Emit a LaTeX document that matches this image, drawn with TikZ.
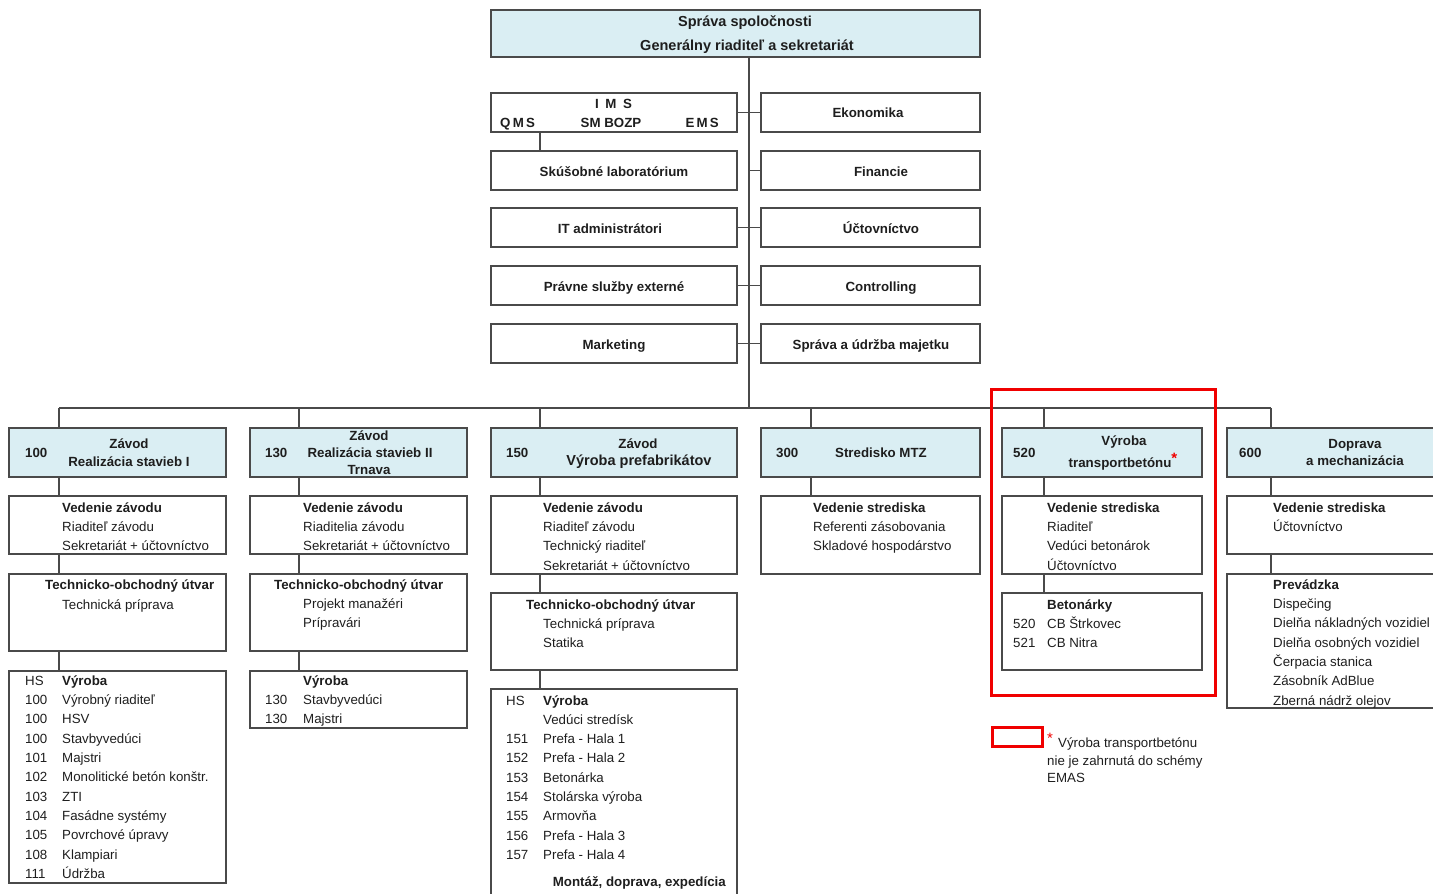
\documentclass[tikz,border=0pt]{standalone}
\usepackage{fontspec}
\setmainfont{Liberation Sans}
\definecolor{hb}{HTML}{DAEEF3}
\definecolor{lc}{HTML}{4A4A4A}
\definecolor{txtc}{HTML}{1E1E1E}
\definecolor{emred}{HTML}{F00000}
\begin{document}
\begin{tikzpicture}[x=1pt,y=-1pt,
  box/.style={draw=lc,line width=1.2pt,anchor=north west,inner sep=0,outer sep=0},
  hdr/.style={box,fill=hb},
  ln/.style={draw=lc,line width=1.2pt},
  t/.style={inner sep=0,anchor=mid west,yshift=-2.5pt,text=txtc,font=\fontsize{13.3}{16}\selectfont},
  tb/.style={t,font=\fontsize{13.3}{16}\selectfont\bfseries},
  ct/.style={tb,anchor=mid},
  big/.style={font=\fontsize{14.5}{16}\selectfont\bfseries},
  redbox/.style={draw=emred,line width=3pt,anchor=north west,inner sep=0,outer sep=0}]
\useasboundingbox (0,0) rectangle (1433,894);
\clip (0,0) rectangle (1433,894);

% ---------- top ----------
\node[hdr,minimum width=489pt,minimum height=47pt] (top) at (491,10) {};
\node[ct,big] (top1) at (745,21) {Správa spoločnosti};
\node[ct,big] (top2) at (747,45) {Generálny riaditeľ a sekretariát};

% ---------- staff boxes ----------
\node[box,minimum width=246pt,minimum height=39pt] (ims) at (491,93) {};
\node[box,minimum width=219pt,minimum height=39pt] (eko) at (761,93) {};
\node[box,minimum width=246pt,minimum height=39pt] (lab) at (491,151) {};
\node[box,minimum width=219pt,minimum height=39pt] (fin) at (761,151) {};
\node[box,minimum width=246pt,minimum height=39pt] (it) at (491,208) {};
\node[box,minimum width=219pt,minimum height=39pt] (uct) at (761,208) {};
\node[box,minimum width=246pt,minimum height=39pt] (prav) at (491,266) {};
\node[box,minimum width=219pt,minimum height=39pt] (ctrl) at (761,266) {};
\node[box,minimum width=246pt,minimum height=39pt] (mkt) at (491,324) {};
\node[box,minimum width=219pt,minimum height=39pt] (sprm) at (761,324) {};

\node[ct] (imsA) at (613.5,103) {I\enspace M\enspace S};
\node[tb] (imsQ) at (500,122) {Q\,M\,S};
\node[ct] (imsB) at (611,122) {SM BOZP};
\node[tb,anchor=mid east] (imsE) at (719,122) {E\,M\,S};
\node[ct] (ekoT) at (868,112) {Ekonomika};
\node[ct] (labT) at (614,171) {Skúšobné laboratórium};
\node[ct] (finT) at (881,171) {Financie};
\node[ct] (itT) at (610,228) {IT administrátori};
\node[ct] (uctT) at (881,228) {Účtovníctvo};
\node[ct] (pravT) at (614,286) {Právne služby externé};
\node[ct] (ctrlT) at (881,286) {Controlling};
\node[ct] (mktT) at (614,344) {Marketing};
\node[ct] (sprmT) at (871,344) {Správa a údržba majetku};

% ---------- trunk and bus ----------
\coordinate (tr) at (749,408);
\coordinate (d100) at (59,408);
\coordinate (d130) at (299,408);
\coordinate (d150) at (540,408);
\coordinate (d300) at (811,408);
\coordinate (d520) at (1044,408);
\coordinate (d600) at (1271,408);
\draw[ln] (top.south -| tr) -- (tr);
\draw[ln] (d100) -- (d600);
\draw[ln] (ims.east) -- (eko.west);
\draw[ln] (fin.west -| tr) -- (fin.west);
\draw[ln] (it.east) -- (uct.west);
\draw[ln] (prav.east) -- (ctrl.west);
\draw[ln] (mkt.east) -- (sprm.west);
\coordinate (labx) at (540,140);
\draw[ln] (ims.south -| labx) -- (lab.north -| labx);

% ---------- division headers ----------
\node[hdr,minimum width=217pt,minimum height=49pt] (h100) at (9,428) {};
\node[hdr,minimum width=217pt,minimum height=49pt] (h130) at (250,428) {};
\node[hdr,minimum width=246pt,minimum height=49pt] (h150) at (491,428) {};
\node[hdr,minimum width=219pt,minimum height=49pt] (h300) at (761,428) {};
\node[hdr,minimum width=200pt,minimum height=49pt] (h520) at (1002,428) {};
\node[hdr,minimum width=230pt,minimum height=49pt] (h600) at (1227,428) {};

\node[tb] (n100) at (25,452) {100};
\node[ct] (h100a) at (129,443) {Závod};
\node[ct] (h100b) at (129,461) {Realizácia stavieb I};
\node[tb] (n130) at (265,452) {130};
\node[ct] (h130a) at (369,435) {Závod};
\node[ct] (h130b) at (370,452) {Realizácia stavieb II};
\node[ct] (h130c) at (369,469) {Trnava};
\node[tb] (n150) at (506,452) {150};
\node[ct] (h150a) at (638,443) {Závod};
\node[ct,big] (h150b) at (639,460) {Výroba prefabrikátov};
\node[tb] (n300) at (776,452) {300};
\node[ct] (h300a) at (881,452) {Stredisko MTZ};
\node[tb] (n520) at (1013,452) {520};
\node[ct] (h520a) at (1124,440) {Výroba};
\node[ct] (h520b) at (1123,462) {transportbetónu\raisebox{4pt}{\textcolor{emred}{\fontsize{15}{16}\selectfont *}}};
\node[tb] (n600) at (1239,452) {600};
\node[ct] (h600a) at (1355,443) {Doprava};
\node[ct] (h600b) at (1355,460) {a mechanizácia};

% ---------- sub boxes ----------
\node[box,minimum width=217pt,minimum height=58pt] (v100) at (9,496) {};
\node[box,minimum width=217pt,minimum height=58pt] (v130) at (250,496) {};
\node[box,minimum width=246pt,minimum height=78pt] (v150) at (491,496) {};
\node[box,minimum width=219pt,minimum height=78pt] (v300) at (761,496) {};
\node[box,minimum width=200pt,minimum height=78pt] (v520) at (1002,496) {};
\node[box,minimum width=230pt,minimum height=58pt] (v600) at (1227,496) {};

\node[box,minimum width=217pt,minimum height=77pt] (t100) at (9,574) {};
\node[box,minimum width=217pt,minimum height=77pt] (t130) at (250,574) {};
\node[box,minimum width=246pt,minimum height=77pt] (t150) at (491,593) {};
\node[box,minimum width=200pt,minimum height=77pt] (t520) at (1002,593) {};
\node[box,minimum width=230pt,minimum height=134pt] (t600) at (1227,574) {};

\node[box,minimum width=217pt,minimum height=212pt] (p100) at (9,671) {};
\node[box,minimum width=217pt,minimum height=57pt] (p130) at (250,671) {};
\node[box,minimum width=246pt,minimum height=230pt] (p150) at (491,689) {};

% ---------- vertical connectors ----------
\foreach \d in {100,130,150,300,520,600}
  \draw[ln] (d\d) -- (h\d.north -| d\d) (h\d.south -| d\d) -- (v\d.north -| d\d);
\foreach \d in {100,130,150,520,600}
  \draw[ln] (v\d.south -| d\d) -- (t\d.north -| d\d);
\foreach \d in {100,130,150}
  \draw[ln] (t\d.south -| d\d) -- (p\d.north -| d\d);

% ---------- texts: Vedenie ----------
\node[tb] (v100h) at (62,507) {Vedenie závodu};
\foreach \s [count=\i] in {Riaditeľ závodu,Sekretariát + účtovníctvo}
  \node[t] (v100-\i) at (62,507+19.3*\i) {\s};
\node[tb] (v130h) at (303,507) {Vedenie závodu};
\foreach \s [count=\i] in {Riaditelia závodu,Sekretariát + účtovníctvo}
  \node[t] (v130-\i) at (303,507+19.3*\i) {\s};
\node[tb] (v150h) at (543,507) {Vedenie závodu};
\foreach \s [count=\i] in {Riaditeľ závodu,Technický riaditeľ,Sekretariát + účtovníctvo}
  \node[t] (v150-\i) at (543,507+19.3*\i) {\s};
\node[tb] (v300h) at (813,507) {Vedenie strediska};
\foreach \s [count=\i] in {Referenti zásobovania,Skladové hospodárstvo}
  \node[t] (v300-\i) at (813,507+19.3*\i) {\s};
\node[tb] (v520h) at (1047,507) {Vedenie strediska};
\foreach \s [count=\i] in {Riaditeľ,Vedúci betonárok,Účtovníctvo}
  \node[t] (v520-\i) at (1047,507+19.3*\i) {\s};
\node[tb] (v600h) at (1273,507) {Vedenie strediska};
\node[t] (v600-1) at (1273,526) {Účtovníctvo};

% ---------- texts: Technicko ----------
\node[tb] (t100h) at (45,584) {Technicko-obchodný útvar};
\node[t] (t100-1) at (62,604) {Technická príprava};
\node[tb] (t130h) at (274,584) {Technicko-obchodný útvar};
\foreach \s [count=\i] in {Projekt manažéri,Prípravári}
  \node[t] (t130-\i) at (303,584+19.3*\i) {\s};
\node[tb] (t150h) at (526,604) {Technicko-obchodný útvar};
\foreach \s [count=\i] in {Technická príprava,Statika}
  \node[t] (t150-\i) at (543,604+19.3*\i) {\s};
\node[tb] (t520h) at (1047,604) {Betonárky};
\foreach \n/\s [count=\i] in {520/CB Štrkovec,521/CB Nitra}{
  \node[t] (t520n-\i) at (1013,604+19.3*\i) {\n};
  \node[t] (t520-\i) at (1047,604+19.3*\i) {\s};}
\node[tb] (t600h) at (1273,584) {Prevádzka};
\foreach \s [count=\i] in {Dispečing,Dielňa nákladných vozidiel,Dielňa osobných vozidiel,Čerpacia stanica,Zásobník AdBlue,Zberná nádrž olejov}
  \node[t] (t600-\i) at (1273,584+19.35*\i) {\s};

% ---------- texts: Výroba ----------
\node[t] (p100hs) at (25,680) {HS};
\node[tb] (p100h) at (62,680) {Výroba};
\foreach \n/\s [count=\i] in {100/Výrobný riaditeľ,100/HSV,100/Stavbyvedúci,101/Majstri,102/Monolitické betón konštr.,103/ZTI,104/Fasádne systémy,105/Povrchové úpravy,108/Klampiari,111/Údržba}{
  \node[t] (p100n-\i) at (25,680+19.35*\i) {\n};
  \node[t] (p100-\i) at (62,680+19.35*\i) {\s};}
\node[tb] (p130h) at (303,680) {Výroba};
\foreach \s [count=\i] in {Stavbyvedúci,Majstri}{
  \node[t] (p130n-\i) at (265,680+19.3*\i) {130};
  \node[t] (p130-\i) at (303,680+19.3*\i) {\s};}
\node[t] (p150hs) at (506,700) {HS};
\node[tb] (p150h) at (543,700) {Výroba};
\node[t] (p150-0) at (543,719) {Vedúci stredísk};
\foreach \n/\s [count=\i] in {151/Prefa - Hala 1,152/Prefa - Hala 2,153/Betonárka,154/Stolárska výroba,155/Armovňa,156/Prefa - Hala 3,157/Prefa - Hala 4}{
  \node[t] (p150n-\i) at (506,719+19.35*\i) {\n};
  \node[t] (p150-\i) at (543,719+19.35*\i) {\s};}
\node[tb,anchor=mid east] (p150m) at (726,881) {Montáž, doprava, expedícia};

% ---------- EMAS marking ----------
\node[redbox,minimum width=224pt,minimum height=306pt] (emas) at (991,389) {};
\node[redbox,minimum width=50pt,minimum height=19pt] (leg) at (992,727) {};
\node[t,text=emred,font=\fontsize{15}{16}\selectfont] (legs) at (1047,738) {*};
\node[t] (leg1) at (1058,742) {Výroba transportbetónu};
\node[t] (leg2) at (1047,760) {nie je zahrnutá do schémy};
\node[t] (leg3) at (1047,777) {EMAS};
\end{tikzpicture}
\end{document}
